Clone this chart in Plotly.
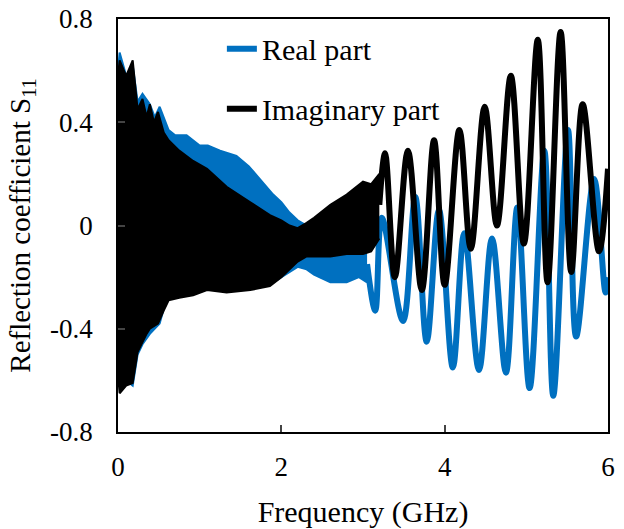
import plotly.graph_objects as go

# ---- data ----
# dense (unresolved) oscillation region: envelope readings (GHz, S11)
f_real_band = [0.0, 0.02, 0.10, 0.18, 0.24, 0.30, 0.39, 0.45, 0.51, 0.58, 0.62, 0.70, 0.84, 1.00,
               1.10, 1.25, 1.45, 1.60, 1.74, 1.90, 2.00, 2.10, 2.20, 2.31, 2.40, 2.60, 2.80, 2.95, 3.05]
real_upper = [0.60, 0.67, 0.58, 0.62, 0.48, 0.51, 0.47, 0.42, 0.46, 0.40, 0.37, 0.35, 0.35, 0.31,
              0.31, 0.29, 0.27, 0.23, 0.18, 0.12, 0.09, 0.05, 0.02, 0.00, -0.01, -0.03, -0.04, -0.03, -0.08]
real_lower = [-0.55, -0.62, -0.60, -0.62, -0.50, -0.46, -0.42, -0.40, -0.38, -0.30, -0.28, -0.27, -0.26, -0.25,
              -0.25, -0.25, -0.25, -0.24, -0.24, -0.22, -0.20, -0.18, -0.16, -0.17, -0.19, -0.22, -0.22, -0.20, -0.22]

f_imag_band = [0.0, 0.02, 0.10, 0.18, 0.24, 0.30, 0.35, 0.39, 0.44, 0.49, 0.56, 0.62, 0.75, 0.92,
               1.09, 1.33, 1.62, 1.86, 2.00, 2.10, 2.20, 2.31, 2.40, 2.60, 2.80, 3.00, 3.10, 3.20]
imag_upper = [0.58, 0.64, 0.58, 0.64, 0.45, 0.49, 0.42, 0.47, 0.40, 0.44, 0.36, 0.33, 0.29, 0.25,
              0.22, 0.15, 0.09, 0.04, 0.02, 0.00, -0.01, 0.01, 0.03, 0.08, 0.12, 0.17, 0.16, 0.20]
imag_lower = [-0.58, -0.65, -0.62, -0.61, -0.49, -0.45, -0.42, -0.40, -0.39, -0.38, -0.33, -0.29, -0.28, -0.27,
              -0.25, -0.26, -0.25, -0.235, -0.20, -0.17, -0.14, -0.12, -0.12, -0.12, -0.11, -0.11, -0.10, -0.05]

# resolved oscillation region: peaks and troughs
f_real_line = [3.05, 3.15, 3.23, 3.49, 3.64, 3.78, 3.93, 4.10, 4.24, 4.42, 4.58, 4.75, 4.89,
               5.04, 5.22, 5.33, 5.51, 5.61, 5.83, 5.97, 6.00]
real_line = [-0.15, -0.33, 0.03, -0.37, 0.11, -0.45, 0.06, -0.55, -0.03, -0.56, -0.05, -0.57, 0.07,
             -0.63, 0.29, -0.66, 0.37, -0.43, 0.18, -0.26, -0.20]

f_imag_line = [3.20, 3.27, 3.39, 3.55, 3.72, 3.87, 4.00, 4.18, 4.32, 4.49, 4.64, 4.81, 4.97,
               5.14, 5.26, 5.42, 5.55, 5.69, 5.89, 6.00]
imag_line = [0.08, 0.28, -0.20, 0.29, -0.25, 0.33, -0.23, 0.37, -0.09, 0.46, 0.00, 0.58, -0.07,
             0.72, -0.22, 0.75, -0.18, 0.47, -0.10, 0.22]

x_ticks = [0, 2, 4, 6]
y_ticks = [-0.8, -0.4, 0, 0.4, 0.8]
y_ticktext = ["-0.8", "-0.4", "0", "0.4", "0.8"]

BLUE = "#0070C0"
BLACK = "#000000"
FONT = "Liberation Serif, serif"

fig = go.Figure()

# Real part: dense band + resolved line
fig.add_trace(go.Scatter(x=f_real_band, y=real_lower, mode="lines",
                         line=dict(color=BLUE, width=2), showlegend=False, hoverinfo="skip"))
fig.add_trace(go.Scatter(x=f_real_band, y=real_upper, mode="lines", fill="tonexty",
                         fillcolor=BLUE, line=dict(color=BLUE, width=2),
                         showlegend=False, hoverinfo="skip"))
fig.add_trace(go.Scatter(x=f_real_line, y=real_line, mode="lines", name="Real part",
                         legendgroup="r", line=dict(color=BLUE, width=6, shape="spline", smoothing=1.0)))

# Imaginary part: dense band + resolved line
fig.add_trace(go.Scatter(x=f_imag_band, y=imag_lower, mode="lines",
                         line=dict(color=BLACK, width=2), showlegend=False, hoverinfo="skip"))
fig.add_trace(go.Scatter(x=f_imag_band, y=imag_upper, mode="lines", fill="tonexty",
                         fillcolor=BLACK, line=dict(color=BLACK, width=2),
                         showlegend=False, hoverinfo="skip"))
fig.add_trace(go.Scatter(x=f_imag_line, y=imag_line, mode="lines", name="Imaginary part",
                         legendgroup="i", line=dict(color=BLACK, width=6, shape="spline", smoothing=1.0)))

fig.update_layout(
    width=624, height=529,
    margin=dict(l=118, r=16, t=19, b=97),
    paper_bgcolor="white", plot_bgcolor="white",
    font=dict(family=FONT, size=27, color="black"),
    showlegend=True,
    legend=dict(x=0.212, y=0.991, xanchor="left", yanchor="top",
                bgcolor="rgba(0,0,0,0)", font=dict(family=FONT, size=30),
                tracegroupgap=18, traceorder="grouped"),
    xaxis=dict(range=[0, 6], tickvals=x_ticks, ticks="inside", ticklen=7, tickwidth=1.5,
               showline=True, linecolor="black", linewidth=1.5, mirror=True, automargin=False,
               showgrid=False, zeroline=False, ticklabelstandoff=10,
               title=dict(text="Frequency (GHz)", font=dict(family=FONT, size=30), standoff=20)),
    yaxis=dict(range=[-0.8, 0.8], tickvals=y_ticks, ticktext=y_ticktext, ticks="inside",
               ticklen=7, tickwidth=1.5, showline=True, linecolor="black", linewidth=1.5,
               mirror=True, showgrid=False, zeroline=False, ticklabelstandoff=18, automargin=False,
               title=dict(text="Reflection coefficient S<sub>11</sub>",
                          font=dict(family=FONT, size=29), standoff=11)),
)

fig.write_html("out.html", post_script="document.body.style.margin='0';",
               config={"displayModeBar": False})
